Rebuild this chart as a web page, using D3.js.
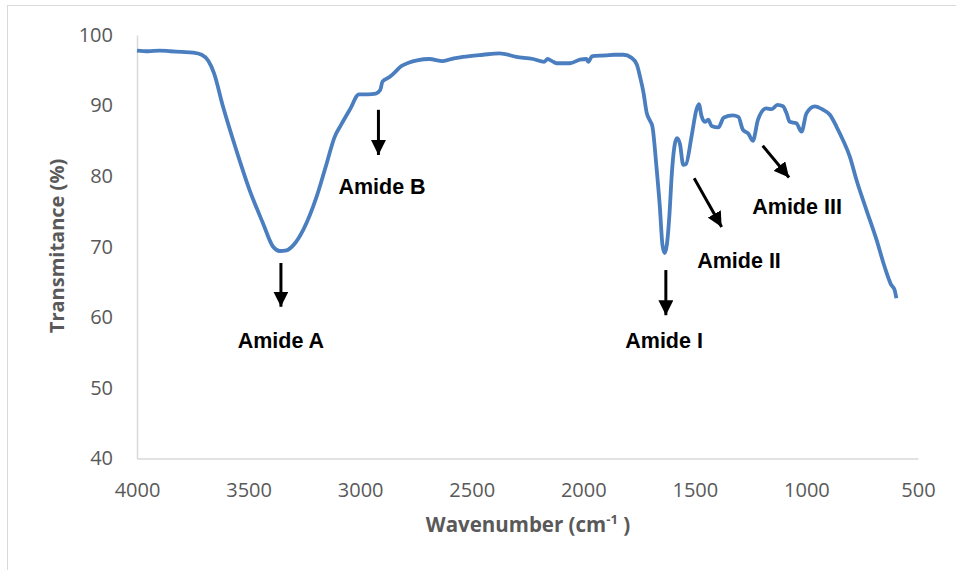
<!DOCTYPE html>
<html>
<head>
<meta charset="utf-8">
<script src="https://cdn.jsdelivr.net/npm/d3@7"></script>
<style>
  body { margin: 0; background: #fff; }
</style>
</head>
<body>
<svg width="956" height="570"></svg>
<script>
// FTIR spectrum
const wavenumber = [4000, 3950, 3900, 3850, 3800, 3750, 3710, 3680, 3655, 3615, 3555, 3495, 3435, 3390, 3360, 3330, 3300, 3255, 3195, 3150, 3115, 3085, 3045, 3005, 2965, 2930, 2910, 2900, 2870, 2845, 2815, 2780, 2745, 2690, 2630, 2580, 2540, 2450, 2375, 2300, 2225, 2175, 2160, 2140, 2120, 2060, 2015, 1985, 1978, 1960, 1900, 1860, 1820, 1785, 1760, 1745, 1730, 1716, 1700, 1690, 1672, 1657, 1645, 1635, 1625, 1612, 1605, 1590, 1580, 1567, 1552, 1540, 1515, 1493, 1482, 1470, 1455, 1440, 1425, 1395, 1370, 1330, 1305, 1285, 1260, 1240, 1217, 1180, 1155, 1130, 1105, 1089, 1075, 1045, 1022, 1000, 963, 925, 895, 865, 836, 806, 776, 731, 686, 650, 620, 605, 597];
const transmittance = [97.8, 97.7, 97.8, 97.7, 97.6, 97.5, 97.2, 96.3, 94.6, 89.9, 83.7, 78.0, 73.3, 70.0, 69.4, 69.5, 70.2, 72.4, 77.1, 81.8, 85.5, 87.3, 89.5, 91.6, 91.6, 91.7, 92.2, 93.4, 94.0, 94.7, 95.6, 96.1, 96.4, 96.6, 96.3, 96.7, 96.9, 97.2, 97.4, 96.9, 96.6, 96.2, 96.6, 96.3, 96.0, 96.0, 96.5, 96.6, 96.2, 97.0, 97.1, 97.2, 97.2, 96.8, 95.8, 94.0, 91.8, 89.0, 87.8, 87.0, 81.3, 75.7, 70.2, 69.1, 70.4, 75.5, 79.5, 84.5, 85.4, 84.6, 81.6, 81.7, 85.6, 89.4, 90.2, 88.5, 87.7, 88.0, 87.1, 86.9, 88.3, 88.6, 88.4, 86.6, 86.0, 85.0, 88.0, 89.6, 89.5, 90.1, 89.9, 88.9, 87.7, 87.5, 86.3, 88.9, 89.9, 89.4, 88.7, 87.0, 85.1, 82.8, 79.5, 75.2, 71.0, 67.2, 64.6, 63.9, 62.7];

const xTicks = [4000, 3500, 3000, 2500, 2000, 1500, 1000, 500];
const yTicks = [40, 50, 60, 70, 80, 90, 100];

// band labels: text, label position, arrow start and end (data units)
const bandLabels = ['Amide A', 'Amide B', 'Amide I', 'Amide II', 'Amide III'];
const labelAt = [[3355, 55.6], [2902, 77.5], [1638, 55.6], [1302, 67.0], [1042, 74.6]];
const arrowFrom = [[3355, 67.7], [2918, 89.4], [1630, 66.7], [1503, 79.7], [1196, 84.3]];
const arrowTo = [[3355, 61.5], [2918, 83.0], [1630, 60.3], [1380, 72.8], [1078, 79.8]];

const svg = d3.select('svg');

const x = d3.scaleLinear().domain([4000, 500]).range([137, 918]);
const y = d3.scaleLinear().domain([40, 100]).range([458.5, 35]);

// outer frame
svg.append('rect')
  .attr('x', 7.5).attr('y', 5.5)
  .attr('width', 980).attr('height', 600)
  .attr('fill', 'none')
  .attr('stroke', '#d9d9d9');

const axisFont = '"Open Sans", sans-serif';

const xAxis = svg.append('g')
  .attr('transform', `translate(0,${y(40)})`)
  .call(d3.axisBottom(x).tickValues(xTicks).tickFormat(d3.format('d')).tickSize(0).tickPadding(24));
xAxis.select('.domain').attr('stroke', '#d9d9d9').attr('stroke-width', 1.5);
xAxis.selectAll('text').attr('fill', '#595959').style('font-family', axisFont).style('font-size', '20px');

const yAxis = svg.append('g')
  .attr('transform', `translate(${x(4000)},0)`)
  .call(d3.axisLeft(y).tickValues(yTicks).tickSize(0).tickPadding(24));
yAxis.select('.domain').attr('stroke', '#d9d9d9').attr('stroke-width', 1.5);
yAxis.selectAll('text').attr('fill', '#595959').style('font-family', axisFont).style('font-size', '20px');

// axis titles
const xTitle = svg.append('text')
  .attr('x', 528).attr('y', 532)
  .attr('text-anchor', 'middle')
  .attr('fill', '#595959')
  .style('font-family', axisFont).style('font-size', '20.5px').style('font-weight', 'bold');
xTitle.append('tspan').text('Wavenumber (cm');
xTitle.append('tspan').attr('dy', -8).style('font-size', '13px').text('-1');
xTitle.append('tspan').attr('dy', 8).text(' )');

svg.append('text')
  .attr('transform', 'translate(64,246) rotate(-90)')
  .attr('text-anchor', 'middle')
  .attr('fill', '#595959')
  .style('font-family', axisFont).style('font-size', '20px').style('font-weight', 'bold')
  .text('Transmitance (%)');

// spectrum
const points = wavenumber.map((w, i) => [w, transmittance[i]]);
svg.append('path')
  .datum(points)
  .attr('fill', 'none')
  .attr('stroke', '#4a7ebf')
  .attr('stroke-width', 3.8)
  .attr('stroke-linejoin', 'round')
  .attr('d', d3.line().x(d => x(d[0])).y(d => y(d[1])).curve(d3.curveMonotoneX));

// arrows
svg.append('defs').append('marker')
  .attr('id', 'head')
  .attr('viewBox', '0 0 10 10')
  .attr('refX', 10).attr('refY', 5)
  .attr('markerWidth', 5).attr('markerHeight', 5)
  .attr('markerUnits', 'strokeWidth')
  .attr('orient', 'auto')
  .append('path').attr('d', 'M0,0L10,5L0,10Z').attr('fill', '#000');

bandLabels.forEach((label, i) => {
  svg.append('line')
    .attr('x1', x(arrowFrom[i][0])).attr('y1', y(arrowFrom[i][1]))
    .attr('x2', x(arrowTo[i][0])).attr('y2', y(arrowTo[i][1]))
    .attr('stroke', '#000')
    .attr('stroke-width', 3)
    .attr('marker-end', 'url(#head)');

  svg.append('text')
    .attr('x', x(labelAt[i][0])).attr('y', y(labelAt[i][1]))
    .attr('text-anchor', 'middle')
    .attr('fill', '#000')
    .style('font-family', '"Liberation Sans", Arial, sans-serif')
    .style('font-size', '21.5px').style('font-weight', 'bold')
    .text(label);
});
</script>
</body>
</html>
